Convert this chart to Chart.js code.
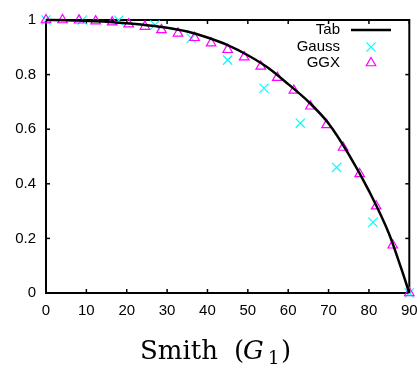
<!DOCTYPE html>
<html lang="en">
  <head>
    <meta charset="UTF-8" />
    <title>Smith G1</title>
    <script src="https://cdn.jsdelivr.net/npm/chart.js@4.4.0/dist/chart.umd.min.js"></script>
    <style>
      body { margin: 0; background: #fff; }
      #wrap { width: 417px; height: 368px; }
    </style>
  </head>
  <body>
    <div id="wrap">
      <canvas id="chart" width="417" height="368"></canvas>
    </div>

    <script>
      // datos
      const tabAngles = [0, 5, 10, 15, 20, 25, 30, 35, 40, 45, 50, 55, 60, 65, 70, 75, 80, 85, 88, 90];
      const tabValues = [1, 0.999, 0.997, 0.994, 0.988, 0.981, 0.972, 0.958, 0.936, 0.908, 0.871, 0.825, 0.765, 0.701, 0.621, 0.508, 0.374, 0.216, 0.09, 0];

      const gaussAngles = [0, 9, 18, 27, 36, 45, 54, 63, 72, 81, 90];
      const gaussValues = [1, 1, 0.999, 0.982, 0.933, 0.853, 0.75, 0.622, 0.46, 0.259, 0];

      const ggxAngles = [0, 4.1, 8.2, 12.3, 16.4, 20.5, 24.5, 28.6, 32.7, 36.8, 40.9, 45, 49.1, 53.2, 57.3, 61.4, 65.5, 69.5, 73.6, 77.7, 81.8, 85.9, 90];
      const ggxValues = [1, 1, 0.999, 0.996, 0.992, 0.985, 0.976, 0.964, 0.951, 0.935, 0.915, 0.891, 0.864, 0.83, 0.789, 0.742, 0.684, 0.616, 0.533, 0.436, 0.318, 0.175, 0];

      const xTickLabels = ['0', '10', '20', '30', '40', '50', '60', '70', '80', '90'];
      const yTickLabels = ['0', '0.2', '0.4', '0.6', '0.8', '1'];
      const seriesNames = ['Tab', 'Gauss', 'GGX'];

      const toPoints = (xs, ys) => xs.map((x, i) => ({ x: x, y: ys[i] }));
      const sans = '"Liberation Sans", Arial, sans-serif';

      // marco, marcas hacia adentro, leyenda y titulo del eje x
      const framePlugin = {
        id: 'frame',
        beforeDatasetsDraw(chart) {
          const { ctx, chartArea: a, scales } = chart;
          const line = (x1, y1, x2, y2) => {
            ctx.beginPath();
            ctx.moveTo(x1, y1);
            ctx.lineTo(x2, y2);
            ctx.stroke();
          };
          ctx.save();
          ctx.strokeStyle = '#000';
          ctx.lineWidth = 1.5;
          scales.x.ticks.forEach((t) => {
            const px = scales.x.getPixelForValue(t.value);
            line(px, a.bottom, px, a.bottom - 4);
            line(px, a.top, px, a.top + 4);
          });
          scales.y.ticks.forEach((t) => {
            const py = scales.y.getPixelForValue(t.value);
            line(a.left, py, a.left + 4, py);
            line(a.right, py, a.right - 4, py);
          });
          ctx.lineWidth = 2;
          ctx.strokeRect(a.left, a.top, a.right - a.left, a.bottom - a.top);
          ctx.restore();
        },
        afterDraw(chart) {
          const ctx = chart.ctx;
          ctx.save();
          // leyenda
          ctx.font = '15px ' + sans;
          ctx.fillStyle = '#000';
          ctx.textAlign = 'right';
          ctx.textBaseline = 'middle';
          const rows = [30, 47, 63];
          seriesNames.forEach((name, i) => ctx.fillText(name, 340, rows[i]));
          ctx.strokeStyle = '#000';
          ctx.lineWidth = 2.5;
          ctx.beginPath();
          ctx.moveTo(351, rows[0]);
          ctx.lineTo(391, rows[0]);
          ctx.stroke();
          ctx.fillStyle = 'rgba(0,0,0,0)';
          [1, 2].forEach((i) => {
            const ds = chart.data.datasets[i];
            ctx.strokeStyle = ds.borderColor;
            ctx.lineWidth = ds.borderWidth;
            Chart.helpers.drawPoint(ctx, { pointStyle: ds.pointStyle, radius: ds.pointRadius, borderWidth: ds.borderWidth, rotation: 0 }, 371, rows[i]);
          });
          // titulo del eje x
          ctx.fillStyle = '#000';
          ctx.textAlign = 'left';
          ctx.textBaseline = 'alphabetic';
          ctx.font = '26px "DejaVu Serif", serif';
          ctx.fillText('Smith', 140, 359);
          ctx.fillText('(', 234, 359);
          ctx.fillText(')', 281, 359);
          ctx.font = 'italic 26px "DejaVu Serif", serif';
          ctx.fillText('G', 243, 359);
          ctx.font = '18px "DejaVu Serif", serif';
          ctx.fillText('1', 268, 364);
          ctx.restore();
        },
      };

      new Chart(document.getElementById('chart'), {
        type: 'scatter',
        data: {
          datasets: [
            {
              label: seriesNames[0],
              data: toPoints(tabAngles, tabValues),
              showLine: true,
              borderColor: '#000',
              borderWidth: 2.5,
              pointRadius: 0,
              cubicInterpolationMode: 'monotone',
              clip: false,
              order: 0,
            },
            {
              label: seriesNames[1],
              data: toPoints(gaussAngles, gaussValues),
              pointStyle: 'crossRot',
              pointRadius: 6.5,
              borderColor: '#00ffff',
              borderWidth: 1.2,
              clip: false,
              order: 2,
            },
            {
              label: seriesNames[2],
              data: toPoints(ggxAngles, ggxValues),
              pointStyle: 'triangle',
              pointRadius: 5.5,
              borderColor: '#ff00ff',
              backgroundColor: 'rgba(0,0,0,0)',
              borderWidth: 1.2,
              clip: false,
              order: 1,
            },
          ],
        },
        options: {
          responsive: false,
          animation: false,
          events: [],
          layout: { padding: { top: 20, right: 7, left: 0, bottom: 0 } },
          plugins: { legend: { display: false }, tooltip: { enabled: false } },
          scales: {
            x: {
              type: 'linear',
              min: 0,
              max: 90,
              grid: { display: false, drawTicks: false },
              border: { display: false },
              ticks: {
                stepSize: 10,
                padding: 9,
                color: '#000',
                font: { family: sans, size: 15 },
                callback: (v, i) => xTickLabels[i],
              },
              afterFit: (s) => {
                s.height = 75;
                s.paddingLeft = 0;
                s.paddingRight = 0;
              },
            },
            y: {
              min: 0,
              max: 1,
              grid: { display: false, drawTicks: false },
              border: { display: false },
              ticks: {
                stepSize: 0.2,
                padding: 10,
                color: '#000',
                font: { family: sans, size: 15 },
                callback: (v, i) => yTickLabels[i],
              },
              afterFit: (s) => {
                s.width = 46;
                s.paddingTop = 0;
                s.paddingBottom = 0;
              },
            },
          },
        },
        plugins: [framePlugin],
      });
    </script>
  </body>
</html>
